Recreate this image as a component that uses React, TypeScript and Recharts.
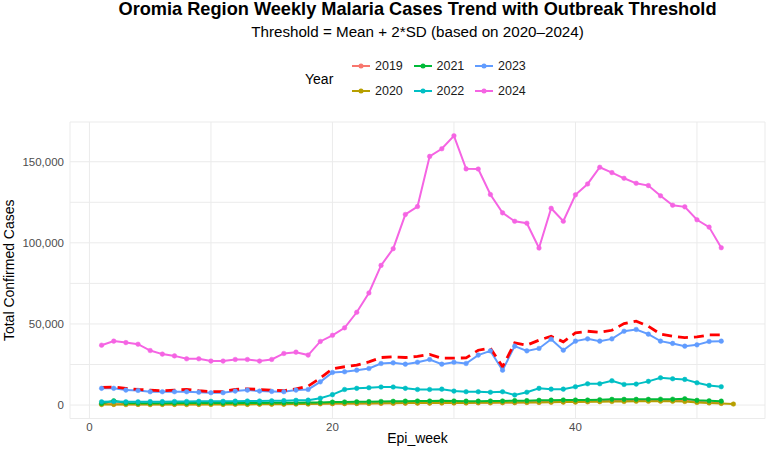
import {
  LineChart,
  Line,
  XAxis,
  YAxis,
  CartesianGrid,
  Label,
} from "recharts";

const weeks = Array.from({ length: 53 }, (_, i) => i + 1);

const cases2019 = [
  600, 500, 600, 500, 500, 600, 500, 600, 500, 600, 600, 600, 700, 600, 700, 700, 800, 800,
  900, 900, 1000, 1000, 1100, 1100, 1200, 1200, 1300, 1300, 1400, 1400, 1400, 1500, 1500, 1600,
  1600, 1700, 1800, 1900, 2000, 2100, 2200, 2600, 2700, 2800, 2900, 3000, 2900, 2800, 2700,
  2100, 1600, 1300,
];
const cases2020 = [
  300, 400, 300, 400, 300, 400, 400, 300, 400, 400, 400, 500, 400, 500, 500, 500, 600, 600,
  800, 900, 900, 1000, 1000, 1100, 1100, 1200, 1200, 1200, 1300, 1300, 1300, 1400, 1400, 1500,
  1500, 1600, 1600, 1700, 1800, 1800, 2000, 2100, 2200, 2200, 2300, 2300, 2400, 2300, 2200,
  1600, 1300, 1000, 600,
];
const cases2021 = [
  1000, 2600, 1200, 1100, 1100, 1100, 1200, 1200, 1200, 1200, 1200, 1300, 1300, 1300, 1400,
  1400, 1400, 1500, 1600, 1800, 1900, 2000, 2100, 2200, 2300, 2400, 2500, 2500, 2600, 2500,
  2400, 2400, 2500, 2500, 2700, 2700, 2900, 3000, 3100, 3100, 3100, 3300, 3500, 3500, 3500,
  3500, 3600, 3600, 3900, 2900, 2600, 2400,
];
const cases2022 = [
  2000, 2200, 2000, 2000, 2100, 2100, 2200, 2200, 2300, 2300, 2300, 2400, 2500, 2500, 2600,
  2700, 2900, 3000, 4200, 6400, 9600, 10300, 10700, 11100, 11100, 10300, 9600, 9600, 9800,
  8600, 8200, 8200, 7900, 8200, 6200, 7900, 10300, 9800, 9800, 11300, 13100, 13100, 15000,
  12700, 12900, 14600, 16800, 16200, 15800, 13700, 12100, 11300,
];
const cases2023 = [
  10300, 10300, 9200, 9000, 8200, 8200, 8200, 8200, 7900, 7600, 7600, 8600, 9200, 8600, 8400,
  8200, 9200, 9600, 14300, 20100, 20500, 21500, 22500, 25600, 26000, 25200, 26400, 28100,
  25200, 26400, 25600, 30800, 33400, 21500, 36300, 33400, 34900, 40600, 33800, 39400, 40800,
  39400, 40800, 45500, 46600, 43700, 39400, 38000, 36300, 37100, 39200, 39400,
];
const cases2024 = [
  36900, 39400, 38500, 37500, 33600, 31400, 30300, 28500, 28500, 27100, 27100, 28100, 28100,
  27100, 28100, 31800, 32600, 30800, 39200, 43000, 47600, 57200, 69100, 86100, 96400, 117500,
  122400, 153300, 158000, 166000, 145600, 145500, 129800, 118500, 113300, 112100, 96800,
  121300, 113300, 129600, 136300, 146600, 143300, 139800, 136700, 135300, 129000, 123200,
  122200, 114200, 109700, 97000,
];
// mean + 2*SD of 2020-2024 for each epi week
const threshold = [
  10900, 11100, 10300, 9600, 9200, 8800, 9200, 9600, 8800, 8200, 8400, 9600, 10000, 9600, 9200,
  8800, 10000, 11700, 16600, 22300, 23600, 24600, 26600, 29300, 29700, 29300, 30000, 31200,
  28900, 28900, 29100, 33800, 35100, 23600, 38300, 36900, 40000, 42400, 39000, 44500, 45500,
  44900, 46100, 50200, 51700, 48600, 43700, 42400, 41600, 42000, 43200, 43200,
];

const years = [
  { key: "2019", color: "#F8766D", values: cases2019 },
  { key: "2020", color: "#B79F00", values: cases2020 },
  { key: "2021", color: "#00BA38", values: cases2021 },
  { key: "2022", color: "#00BFC4", values: cases2022 },
  { key: "2023", color: "#619CFF", values: cases2023 },
  { key: "2024", color: "#F564E3", values: cases2024 },
];

const xTicks = [0, 10, 20, 30, 40, 50];
const xLabels = [0, 20, 40];
const yTicks = [0, 25000, 50000, 75000, 100000, 125000, 150000];
const yLabels = [0, 50000, 100000, 150000];

const data = weeks.map((week, i) => {
  const row: Record<string, number | undefined> = { week, threshold: threshold[i] };
  years.forEach((y) => {
    row[y.key] = y.values[i];
  });
  return row;
});

const font = "'Liberation Sans', Arial, sans-serif";

// two-row legend in ggplot style: 2019 2021 2023 / 2020 2022 2024
const YearLegend = () => {
  const cols = [
    ["2019", "2020"],
    ["2021", "2022"],
    ["2023", "2024"],
  ];
  return (
    <div style={{ position: "absolute", left: 0, top: 54, width: 767, height: 56 }}>
      <div style={{ position: "absolute", left: 305, top: 17, fontSize: 14, color: "#000" }}>
        Year
      </div>
      {cols.map((col, c) =>
        col.map((key, r) => {
          const color = years.find((y) => y.key === key)!.color;
          return (
            <div
              key={key}
              style={{
                position: "absolute",
                left: 351 + c * 61.5,
                top: r * 25 + 4,
                display: "flex",
                alignItems: "center",
                fontSize: 12.5,
                color: "#1a1a1a",
              }}
            >
              <svg width={20} height={16}>
                <line x1={1} x2={19} y1={8} y2={8} stroke={color} strokeWidth={2} />
                <circle cx={10} cy={8} r={2.5} fill={color} />
              </svg>
              <span style={{ marginLeft: 4 }}>{key}</span>
            </div>
          );
        })
      )}
    </div>
  );
};

const YTitle = ({ viewBox }: any) => {
  const cy = viewBox.y + viewBox.height / 2;
  return (
    <text
      x={14}
      y={cy}
      transform={`rotate(-90, 14, ${cy})`}
      textAnchor="middle"
      fill="#000"
      fontSize={14}
      fontFamily={font}
    >
      Total Confirmed Cases
    </text>
  );
};

export default function App() {
  return (
    <div
      style={{
        position: "absolute",
        left: 0,
        top: 0,
        width: 767,
        height: 455,
        background: "#fff",
        fontFamily: font,
      }}
    >
      <div
        style={{
          position: "absolute",
          left: 70,
          width: 695,
          top: -1,
          textAlign: "center",
          fontSize: 18.2,
          fontWeight: "bold",
          color: "#000",
        }}
      >
        Oromia Region Weekly Malaria Cases Trend with Outbreak Threshold
      </div>
      <div
        style={{
          position: "absolute",
          left: 70,
          width: 695,
          top: 23,
          textAlign: "center",
          fontSize: 15.2,
          color: "#000",
        }}
      >
        Threshold = Mean + 2*SD (based on 2020–2024)
      </div>
      <YearLegend />
      <LineChart
        width={767}
        height={455}
        data={data}
        margin={{ top: 122, right: 2, bottom: 0, left: 0 }}
      >
        <CartesianGrid stroke="#EBEBEB" strokeWidth={1} />
        <XAxis
          dataKey="week"
          type="number"
          domain={[-1.6, 55.6]}
          ticks={xTicks}
          tickFormatter={(v: number) => (xLabels.includes(v) ? String(v) : "")}
          axisLine={false}
          tickLine={false}
          tickSize={0}
          tickMargin={4}
          height={36.5}
          tick={{ fill: "#4D4D4D", fontSize: 11.5, fontFamily: font }}
          allowDataOverflow
        >
          <Label
            value="Epi_week"
            position="insideBottom"
            offset={12}
            style={{ fill: "#000", fontSize: 14, fontFamily: font }}
          />
        </XAxis>
        <YAxis
          type="number"
          domain={[-8300, 174500]}
          ticks={yTicks}
          tickFormatter={(v: number) => (yLabels.includes(v) ? v.toLocaleString("en-US") : "")}
          axisLine={false}
          tickLine={false}
          tickSize={0}
          tickMargin={6}
          width={70}
          tick={{ fill: "#4D4D4D", fontSize: 11.5, fontFamily: font }}
          allowDataOverflow
        >
          <Label content={YTitle} />
        </YAxis>
        {years.map((y) => (
          <Line
            key={y.key}
            type="linear"
            dataKey={y.key}
            stroke={y.color}
            strokeWidth={2}
            dot={{ r: 2.3, fill: y.color, stroke: y.color, strokeWidth: 0.5 }}
            activeDot={false}
            isAnimationActive={false}
          />
        ))}
        <Line
          type="linear"
          dataKey="threshold"
          stroke="#FF0000"
          strokeWidth={2.8}
          strokeDasharray="10 6"
          dot={false}
          activeDot={false}
          isAnimationActive={false}
        />
      </LineChart>
    </div>
  );
}
